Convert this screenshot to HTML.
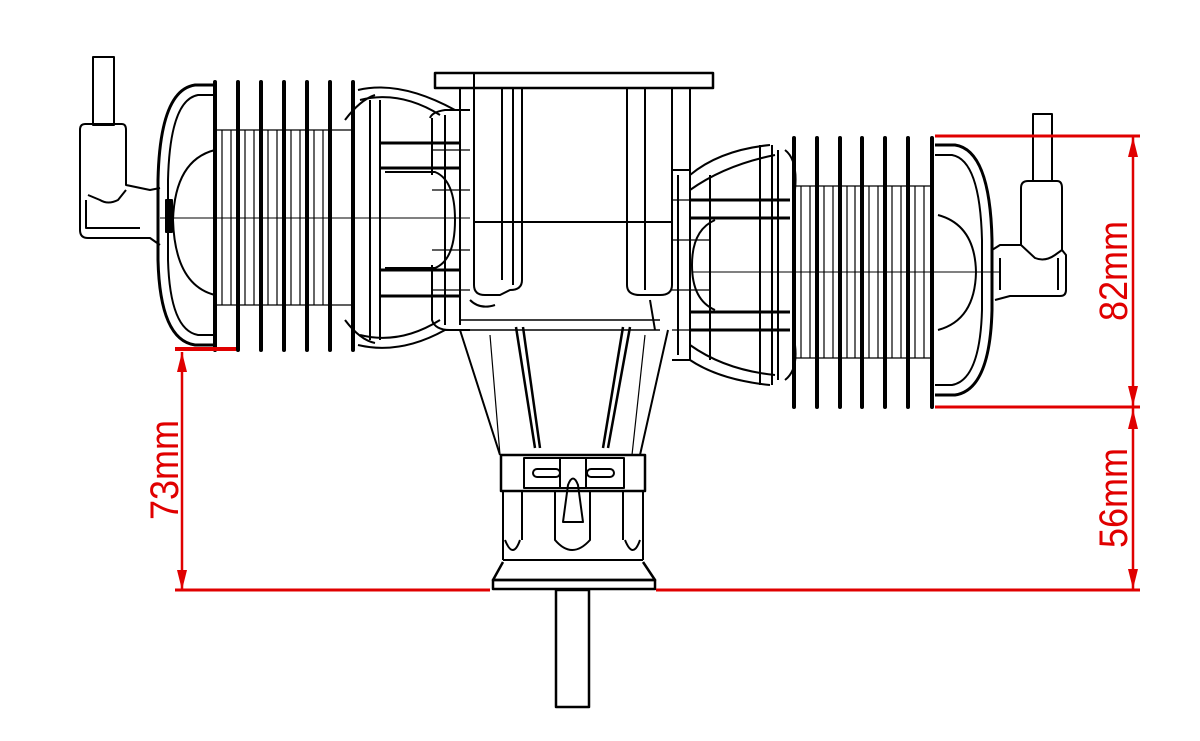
<!DOCTYPE html>
<html><head><meta charset="utf-8"><style>
html,body{margin:0;padding:0;background:#fff;}
svg{display:block;}
text{font-family:"Liberation Sans",sans-serif;fill:#e00000;}
</style></head><body>
<svg width="1200" height="741" viewBox="0 0 1200 741" xmlns="http://www.w3.org/2000/svg">
<g fill="none" stroke="#000" stroke-width="2" stroke-linejoin="round">
<!-- LEFT spark plug -->
<rect x="93" y="57" width="21" height="68"/>
<path d="M85 124 H122 Q126 124 126 130 V185 L150 190 L160 188"/>
<path d="M85 124 Q80 124 80 130 V230 Q80 238 88 238 H150 L160 245"/>
<path d="M88 195 L100 200 Q108 205 118 200 L126 190"/>
<path d="M86 200 V228 H140"/>
<!-- LEFT head -->
<path d="M215 85 H195 Q160 90 158 180 V260 Q160 340 195 345 H215" stroke-width="3"/>
<path d="M215 95 H198 Q170 100 168 180 V260 Q170 330 198 335 H215"/>
<path d="M215 150 Q175 160 173 220 Q175 285 215 295"/>
<rect x="166" y="200" width="6" height="32" fill="#000"/>
<line x1="160" y1="218" x2="470" y2="218" stroke-width="1"/>
<!-- LEFT fins -->
<g stroke-width="4" stroke-linecap="round">
<line x1="215" y1="82" x2="215" y2="350"/>
<line x1="238" y1="82" x2="238" y2="350"/>
<line x1="261" y1="82" x2="261" y2="350"/>
<line x1="284" y1="82" x2="284" y2="350"/>
<line x1="307" y1="82" x2="307" y2="350"/>
<line x1="330" y1="82" x2="330" y2="350"/>
<line x1="353" y1="82" x2="353" y2="350"/>
</g>
<g stroke-width="1.2">
<line x1="222" y1="130" x2="222" y2="305"/><line x1="231" y1="130" x2="231" y2="305"/>
<line x1="245" y1="130" x2="245" y2="305"/><line x1="254" y1="130" x2="254" y2="305"/>
<line x1="268" y1="130" x2="268" y2="305"/><line x1="277" y1="130" x2="277" y2="305"/>
<line x1="291" y1="130" x2="291" y2="305"/><line x1="300" y1="130" x2="300" y2="305"/>
<line x1="314" y1="130" x2="314" y2="305"/><line x1="323" y1="130" x2="323" y2="305"/>
<path d="M215 130 H353 M215 305 H353"/>
</g>
<!-- LEFT transfer section -->
<path d="M358 90 Q400 80 455 110 L470 110"/>
<path d="M360 100 Q400 90 440 115"/>
<path d="M358 345 Q400 355 445 330 L470 330"/>
<path d="M360 335 Q400 345 440 320"/>
<path d="M345 120 Q360 100 375 95 M345 320 Q360 340 375 343"/>
<path d="M370 100 V340 M380 100 V340"/>
<path d="M380 143 H460 M380 168 H460 M380 270 H460 M380 296 H460" stroke-width="3"/>
<path d="M385 172 H435 Q455 180 455 220 Q455 260 435 268 H385"/>
<path d="M430 118 Q432 112 445 110 H470 M432 118 V175 M432 265 V320 Q435 330 450 330"/>
<path d="M445 115 V325 M460 112 V325"/>
<path d="M432 150 H470 M432 190 H470 M432 250 H470 M432 290 H470" stroke-width="1.2"/>
<!-- CENTER crankcase -->
<rect x="435" y="73" width="278" height="15" stroke-width="2.5"/>
<line x1="474" y1="73" x2="474" y2="88"/>
<path d="M460 88 V115 M474 88 V285 Q474 295 485 295 H500 L510 290 Q522 290 522 280 V88"/>
<path d="M502 88 V280 M513 88 V285"/>
<path d="M627 88 V285 Q627 295 640 295 H660 Q672 295 672 285 V88"/>
<path d="M645 88 V290 M690 88 V170"/>
<line x1="474" y1="222" x2="672" y2="222"/>
<path d="M460 320 H660 M465 330 H660" stroke-width="1.5"/>
<path d="M470 300 Q480 310 495 305 M650 300 L655 330"/>
<!-- RIGHT transfer section -->
<path d="M690 175 Q720 150 770 145 M690 190 Q725 165 775 155"/>
<path d="M690 360 Q720 380 770 385 M690 345 Q725 370 775 375"/>
<path d="M672 170 H690 V360 H672 M678 175 V355 M710 175 V360"/>
<path d="M690 200 H790 M690 218 H790 M690 330 H790 M690 312 H790" stroke-width="3"/>
<path d="M715 220 Q692 230 692 265 Q692 300 715 310"/>
<path d="M760 145 V385 M772 145 V385 M778 150 V380"/>
<path d="M672 200 H710 M672 240 H710 M672 290 H710 M672 330 H710" stroke-width="1.2"/>
<line x1="692" y1="272" x2="1000" y2="272" stroke-width="1"/>
<path d="M785 150 Q798 160 795 190 M785 380 Q798 370 795 345"/>
<!-- RIGHT fins -->
<g stroke-width="4" stroke-linecap="round">
<line x1="794" y1="138" x2="794" y2="407"/>
<line x1="817" y1="138" x2="817" y2="407"/>
<line x1="840" y1="138" x2="840" y2="407"/>
<line x1="862" y1="138" x2="862" y2="407"/>
<line x1="885" y1="138" x2="885" y2="407"/>
<line x1="908" y1="138" x2="908" y2="407"/>
<line x1="932" y1="138" x2="932" y2="407"/>
</g>
<g stroke-width="1.2">
<line x1="801" y1="186" x2="801" y2="358"/><line x1="810" y1="186" x2="810" y2="358"/>
<line x1="824" y1="186" x2="824" y2="358"/><line x1="833" y1="186" x2="833" y2="358"/>
<line x1="847" y1="186" x2="847" y2="358"/><line x1="855" y1="186" x2="855" y2="358"/>
<line x1="869" y1="186" x2="869" y2="358"/><line x1="878" y1="186" x2="878" y2="358"/>
<line x1="892" y1="186" x2="892" y2="358"/><line x1="901" y1="186" x2="901" y2="358"/>
<line x1="915" y1="186" x2="915" y2="358"/><line x1="924" y1="186" x2="924" y2="358"/>
<path d="M794 186 H932 M794 358 H932"/>
</g>
<!-- RIGHT head -->
<path d="M935 145 H955 Q990 150 992 240 V310 Q990 390 955 395 H935" stroke-width="3"/>
<path d="M935 155 H952 Q980 160 982 240 V310 Q980 380 952 385 H935"/>
<path d="M938 215 Q975 225 976 272 Q975 320 938 330"/>
<!-- RIGHT spark plug -->
<rect x="1033" y="114" width="19" height="67"/>
<path d="M1028 181 H1057 Q1062 181 1062 188 V250 L1066 255 V290 Q1066 296 1060 296 H1010 L995 300"/>
<path d="M1028 181 Q1021 181 1021 188 V245 L1000 245 L992 250"/>
<path d="M1021 245 L1035 258 Q1045 262 1055 255 L1062 250"/>
<path d="M1000 258 V290 M1058 258 V290"/>
<!-- LOWER housing -->
<path d="M460 330 L500 455 M668 330 L640 455"/>
<path d="M490 335 L500 455 M645 335 L632 455" stroke-width="1.2"/>
<path d="M516 327 L535 448 M523 327 L540 448" stroke-width="2.5"/>
<path d="M630 327 L608 448 M623 327 L603 448" stroke-width="2.5"/>
<rect x="501" y="455" width="144" height="36" stroke-width="2.5"/>
<rect x="524" y="458" width="100" height="30"/>
<rect x="533" y="469" width="27" height="8" rx="4"/>
<rect x="587" y="469" width="27" height="8" rx="4"/>
<path d="M560 458 V488 M586 458 V488"/>
<path d="M563 522 L568 485 Q573 472 578 485 L583 522 Z"/>
<path d="M503 491 V560 M643 491 V560 M522 491 V540 M623 491 V540"/>
<path d="M555 491 V540 Q572 560 590 540 V491"/>
<path d="M505 540 Q513 560 520 540 M625 540 Q633 560 640 540"/>
<line x1="503" y1="560" x2="643" y2="560"/>
<path d="M503 562 L493 580 H655 L643 562" stroke-width="2.5"/>
<rect x="493" y="580" width="162" height="9" stroke-width="2.5"/>
<rect x="556" y="590" width="33" height="117" stroke-width="2.5"/>
</g>
<!-- Red dimensions -->
<g stroke="#e00000" fill="none">
<line x1="175" y1="349" x2="236" y2="349" stroke-width="4"/>
<line x1="182" y1="352" x2="182" y2="590" stroke-width="2.5"/>
<line x1="175" y1="590" x2="490" y2="590" stroke-width="3"/>
<line x1="656" y1="590" x2="1140" y2="590" stroke-width="3"/>
<line x1="935" y1="136" x2="1140" y2="136" stroke-width="3"/>
<line x1="935" y1="407" x2="1140" y2="407" stroke-width="3"/>
<line x1="1133" y1="136" x2="1133" y2="590" stroke-width="2.5"/>
</g>
<g fill="#e00000">
<path d="M182 352 L177 372 L187 372 Z"/>
<path d="M182 590 L177 570 L187 570 Z"/>
<path d="M1133 137 L1128 157 L1138 157 Z"/>
<path d="M1133 406 L1128 386 L1138 386 Z"/>
<path d="M1133 409 L1128 429 L1138 429 Z"/>
<path d="M1133 589 L1128 569 L1138 569 Z"/>
</g>
<text transform="translate(178,470) rotate(-90)" font-size="40" text-anchor="middle" textLength="100" lengthAdjust="spacingAndGlyphs">73mm</text>
<text transform="translate(1127,271) rotate(-90)" font-size="40" text-anchor="middle" textLength="100" lengthAdjust="spacingAndGlyphs">82mm</text>
<text transform="translate(1127,498) rotate(-90)" font-size="40" text-anchor="middle" textLength="100" lengthAdjust="spacingAndGlyphs">56mm</text>
</svg>
</body></html>
